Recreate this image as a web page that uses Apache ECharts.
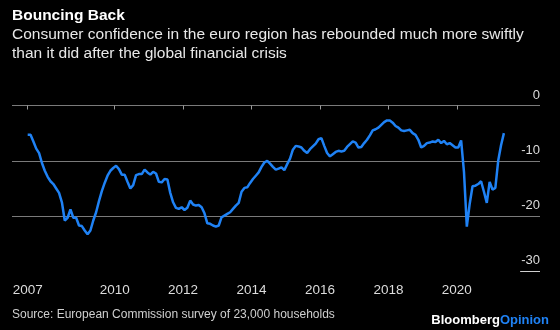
<!DOCTYPE html>
<html>
<head>
<meta charset="utf-8">
<style>
  html, body { margin: 0; padding: 0; background: #000; }
  #chart { width: 560px; height: 330px; }
</style>
<script src="https://cdn.jsdelivr.net/npm/echarts@6/dist/echarts.min.js"></script>
</head>
<body>
<div id="chart"></div>
<script>
// Monthly euro-area consumer confidence, June 2007 – May 2021
const startYear = 2007;
const startMonth = 6;
const confidence = [
  -5.3, -5.3, -6.5, -7.8, -8.6, -10.4, -11.8, -12.9, -13.7, -14.2, -15.0, -15.8,
  -17.5, -20.8, -20.3, -18.8, -20.3, -20.3, -21.7, -21.8, -22.6, -23.3, -22.6, -20.8,
  -19.3, -17.3, -15.5, -14.0, -12.7, -11.8, -11.3, -10.9, -11.5, -12.5, -12.5, -13.8,
  -15.0, -14.4, -12.6, -12.4, -12.4, -11.6, -12.1, -12.5, -12.0, -12.3, -13.8, -13.9,
  -13.3, -13.4, -15.8, -17.5, -18.5, -18.7, -18.4, -18.9, -18.5, -17.2, -17.9, -18.1,
  -18.0, -18.4, -19.5, -21.3, -21.4, -21.7, -21.9, -21.7, -20.2, -19.9, -19.6, -19.3,
  -18.7, -18.1, -17.6, -15.6, -14.9, -14.8, -14.0, -13.3, -12.7, -12.1, -11.1, -10.3,
  -10.0, -10.5, -11.1, -11.6, -11.4, -11.2, -11.7, -10.6, -9.6, -8.0, -7.3, -7.4,
  -7.6, -8.2, -8.6, -7.9, -7.4, -6.9, -6.1, -5.9, -7.3, -8.6, -9.2, -8.8,
  -8.4, -8.2, -8.3, -8.2, -7.5, -7.0, -6.5, -6.7, -7.6, -7.5, -6.8, -6.2,
  -5.4, -4.5, -4.3, -4.0, -3.5, -3.0, -2.7, -2.7, -3.1, -3.7, -4.0, -4.5,
  -4.6, -4.5, -4.4, -5.0, -5.3, -6.2, -7.6, -7.3, -6.8, -6.7, -6.5, -6.6,
  -6.2, -6.8, -6.4, -7.0, -6.8, -7.2, -7.6, -7.6, -6.3, -12.0, -21.9, -17.8,
  -14.6, -14.5, -14.2, -13.7, -15.6, -17.6, -13.8, -15.2, -14.9, -10.0, -7.2, -5.0
];
const xTickYears = [2007, 2010, 2012, 2014, 2016, 2018, 2020];
const yTicks = [0, -10, -20, -30];

const titleText = 'Bouncing Back';
const subtitleText = 'Consumer confidence in the euro region has rebounded much more swiftly\nthan it did after the global financial crisis';
const sourceText = 'Source: European Commission survey of 23,000 households';

// decimal-year position of each monthly observation (mid-month)
const monthPos = i => startYear + (startMonth - 1 + i + 0.5) / 12;
const seriesData = confidence.map((v, i) => [monthPos(i), v]);
const firstPos = monthPos(0);
const xTickPos = xTickYears.map((y, i) => (i === 0 ? firstPos : y));

const font = 'Liberation Sans, Arial, Helvetica, sans-serif';
const chart = echarts.init(document.getElementById('chart'), null, { renderer: 'canvas' });
chart.setOption({
  backgroundColor: '#000000',
  animation: false,
  textStyle: { fontFamily: font },
  title: [
    {
      text: titleText,
      left: 7, top: 3,
      textStyle: { color: '#ffffff', fontSize: 15.5, fontWeight: 'bold', fontFamily: font }
    },
    {
      text: subtitleText,
      left: 7, top: 20,
      textStyle: { color: '#e8e8e8', fontSize: 15.5, fontWeight: 'normal', lineHeight: 19, fontFamily: font }
    },
    {
      text: sourceText,
      left: 7, top: 304,
      textStyle: { color: '#cfcfcf', fontSize: 12, fontWeight: 'normal', fontFamily: font }
    },
    {
      text: '{a|Bloomberg}{b|Opinion}',
      right: 6, top: 309,
      textStyle: {
        rich: {
          a: { color: '#ffffff', fontSize: 13, fontWeight: 'bold', fontFamily: font },
          b: { color: '#1f82f5', fontSize: 13, fontWeight: 'bold', fontFamily: font }
        }
      }
    }
  ],
  grid: { left: 12, right: 20, top: 105.5, bottom: 58.6, containLabel: false },
  xAxis: {
    type: 'value',
    min: 2007,
    max: 2022.43,
    axisLine: { show: false },
    splitLine: { show: false },
    axisTick: {
      show: true, length: 4, inside: false,
      customValues: xTickPos,
      lineStyle: { color: '#9a9a9a', width: 1 }
    },
    axisLabel: {
      customValues: xTickPos,
      formatter: v => String(Math.floor(v)),
      color: '#dcdcdc', fontSize: 13.5, margin: 12, fontFamily: font
    }
  },
  yAxis: {
    type: 'value',
    position: 'right',
    min: -30, max: 0, interval: 10,
    axisLine: { show: false },
    axisTick: { show: false },
    splitLine: {
      show: true,
      lineStyle: { color: ['rgba(0,0,0,0)', '#7a7a7a', '#7a7a7a', '#7a7a7a'], width: 1 }
    },
    axisLabel: {
      inside: true,
      margin: 0,
      color: '#dcdcdc', fontSize: 13, fontFamily: font,
      align: 'right',
      verticalAlign: 'bottom',
      padding: [0, 0, 4, 0]
    }
  },
  series: [
    {
      type: 'line',
      data: seriesData,
      showSymbol: false,
      symbol: 'none',
      lineStyle: { color: '#1f82f5', width: 2.5 },
      z: 3,
      markLine: {
        silent: true,
        symbol: 'none',
        label: { show: false },
        lineStyle: { color: '#cfcfcf', width: 1, type: 'solid' },
        data: [[{ coord: [2021.85, -30] }, { coord: [2022.43, -30] }]]
      }
    }
  ]
});
</script>
</body>
</html>
